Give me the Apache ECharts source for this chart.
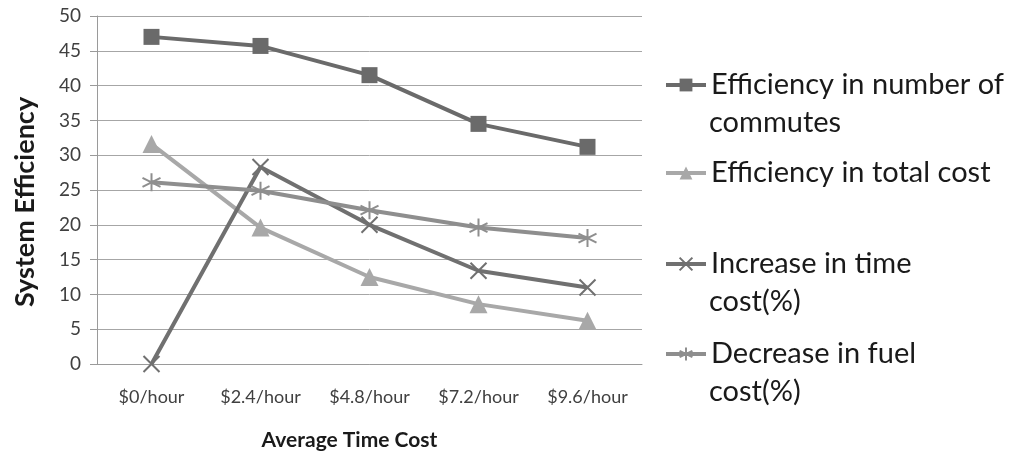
<!DOCTYPE html>
<html>
<head>
<meta charset="utf-8">
<script src="https://cdn.jsdelivr.net/npm/echarts@6/dist/echarts.min.js"></script>
<style>
  html, body { margin: 0; padding: 0; background: #ffffff; }
  #chart { width: 1016px; height: 457px; }
</style>
</head>
<body>
<div id="chart"></div>
<script>
// Cost levels along the x axis
const categories = ['$0/hour', '$2.4/hour', '$4.8/hour', '$7.2/hour', '$9.6/hour'];

// Series values
const commutesEfficiency = [47.0, 45.7, 41.5, 34.5, 31.2];
const totalCostEfficiency = [31.6, 19.6, 12.5, 8.6, 6.2];
const timeCostIncrease = [0, 28.3, 20.0, 13.4, 11.0];
const fuelCostDecrease = [26.1, 24.9, 22.1, 19.6, 18.1];

// Series names; the legend wraps the long ones onto a second line
const seriesNames = [
  'Efficiency in number of commutes',
  'Efficiency in total cost',
  'Increase in time cost(%)',
  'Decrease in fuel cost(%)'
];
const legendLines = [
  ['Efficiency in number of', 'commutes'],
  ['Efficiency in total cost'],
  ['Increase in time', 'cost(%)'],
  ['Decrease in fuel', 'cost(%)']
];

const FONT = 'Lato, "Open Sans", sans-serif';
const LEGEND_FONT_SIZE = 29;
const LINE_H = 38;
const LEGEND_LEFT = 664;
const LEGEND_TEXT_X = 709;
const legendRowY = [85, 173, 264, 354];

const xMarker = 'path://M-1,-1L1,1M-1,1L1,-1';
const starMarker = 'path://M0,-1L0,1M-0.87,-0.5L0.87,0.5M-0.87,0.5L0.87,-0.5';

const chart = echarts.init(document.getElementById('chart'), null, { renderer: 'canvas' });

function lineSeries(name, data, color, symbol, size, stroke) {
  return {
    name: name,
    type: 'line',
    data: data,
    symbol: symbol,
    symbolSize: size,
    showAllSymbol: true,
    lineStyle: { color: color, width: 4 },
    itemStyle: stroke
      ? { color: 'rgba(0,0,0,0)', borderColor: color, borderWidth: 2 }
      : { color: color, borderColor: color, borderWidth: 0 },
    emphasis: { disabled: true },
    z: 3
  };
}

// One legend block per series, showing the first line of its label
function legendBlock(i) {
  return {
    data: [seriesNames[i]],
    formatter: function () { return legendLines[i][0]; },
    left: LEGEND_LEFT,
    top: legendRowY[i] - LINE_H / 2,
    padding: 0,
    itemWidth: 40,
    itemHeight: 16,
    itemGap: 0,
    selectedMode: false,
    lineStyle: { width: 4 },
    textStyle: {
      fontFamily: FONT,
      fontSize: LEGEND_FONT_SIZE,
      color: '#1a1a1a',
      lineHeight: LINE_H
    }
  };
}

// Continuation lines of the wrapped legend labels
const legendContinuations = [];
legendLines.forEach(function (lines, i) {
  if (lines.length > 1) {
    legendContinuations.push({
      type: 'text',
      left: LEGEND_TEXT_X,
      top: legendRowY[i] + LINE_H - LINE_H / 2,
      style: {
        text: lines[1],
        font: LEGEND_FONT_SIZE + 'px ' + FONT,
        fill: '#1a1a1a',
        lineHeight: LINE_H
      }
    });
  }
});

const option = {
  animation: false,
  backgroundColor: '#ffffff',
  grid: { left: 97, right: 374, top: 16, bottom: 93, containLabel: false },
  legend: legendLines.map(function (_, i) { return legendBlock(i); }),
  graphic: legendContinuations,
  xAxis: {
    type: 'category',
    data: categories,
    boundaryGap: true,
    name: 'Average Time Cost',
    nameLocation: 'middle',
    nameGap: 66,
    nameTextStyle: {
      fontFamily: FONT, fontSize: 21, fontWeight: 'bold', color: '#1a1a1a',
      padding: [0, 40, 0, 0]
    },
    axisLine: { show: true, lineStyle: { color: '#9a9a9a', width: 1 } },
    axisTick: { show: false },
    axisLabel: {
      interval: 0, hideOverlap: false,
      fontFamily: FONT, fontSize: 18, color: '#404040', margin: 24
    }
  },
  yAxis: {
    type: 'value',
    min: 0,
    max: 50,
    interval: 5,
    name: 'System Efficiency',
    nameLocation: 'middle',
    nameGap: 58,
    nameTextStyle: {
      fontFamily: FONT, fontSize: 27, fontWeight: 'bold', color: '#1a1a1a',
      padding: [0, 24, 0, 0]
    },
    axisLine: { show: true, lineStyle: { color: '#9a9a9a', width: 1 } },
    axisTick: { show: true, inside: false, length: 7, lineStyle: { color: '#9a9a9a' } },
    axisLabel: { fontFamily: FONT, fontSize: 19, color: '#404040', margin: 16 },
    splitLine: { show: true, lineStyle: { color: '#a6a6a6', width: 1 } }
  },
  series: [
    lineSeries(seriesNames[0], commutesEfficiency, '#6a6a6a', 'rect', 16, false),
    lineSeries(seriesNames[1], totalCostEfficiency, '#a8a8a8', 'triangle', 18, false),
    lineSeries(seriesNames[2], timeCostIncrease, '#707070', xMarker, 16, true),
    lineSeries(seriesNames[3], fuelCostDecrease, '#8e8e8e', starMarker, 18, true)
  ]
};

chart.setOption(option);
</script>
</body>
</html>
